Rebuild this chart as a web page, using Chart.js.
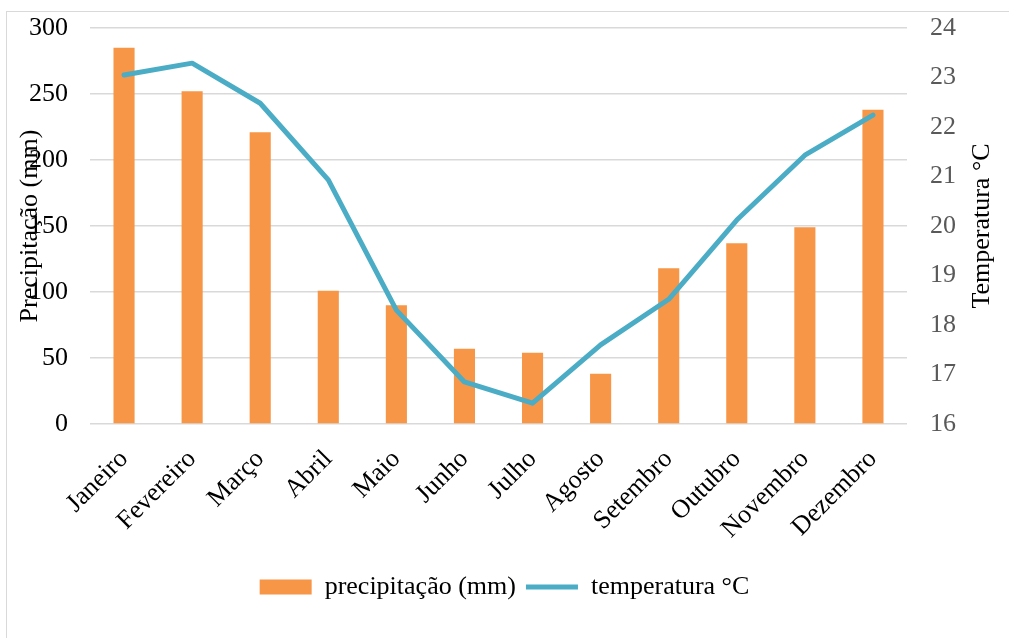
<!DOCTYPE html>
<html>
<head>
<meta charset="utf-8">
<script src="https://cdn.jsdelivr.net/npm/chart.js@4/dist/chart.umd.min.js"></script>
<style>
  html, body { margin: 0; padding: 0; background: #ffffff; overflow: hidden; }
  #frame { position: absolute; left: 6px; top: 11px; width: 1030px; height: 660px; border: 1px solid #d9d9d9; }
  #wrap { position: absolute; left: 0; top: 0; width: 1009px; height: 638px; }
</style>
</head>
<body>
<div id="frame"></div>
<div id="wrap"><canvas id="c" width="1009" height="638"></canvas></div>
<script>
// Monthly climate normals
const meses = ['Janeiro', 'Fevereiro', 'Março', 'Abril', 'Maio', 'Junho', 'Julho', 'Agosto', 'Setembro', 'Outubro', 'Novembro', 'Dezembro'];
const precipitacao = [285, 252, 221, 101, 90, 57, 54, 38, 118, 137, 149, 238];
const temperatura = [23.05, 23.29, 22.48, 20.93, 18.30, 16.85, 16.42, 17.60, 18.52, 20.12, 21.43, 22.24];

const FONT = '"Liberation Serif", "Times New Roman", serif';
const PAD_TOP = 28;
const PAD_BOTTOM = 28;
const AREA_BOTTOM = 424;

// Rotated axis titles, both reading bottom-to-top
const axisTitles = {
  id: 'axisTitles',
  afterDraw(chart) {
    const ctx = chart.ctx;
    const a = chart.chartArea;
    const cy = (a.top + a.bottom) / 2;
    ctx.save();
    ctx.font = '26px ' + FONT;
    ctx.fillStyle = '#000000';
    ctx.textAlign = 'center';
    ctx.textBaseline = 'middle';
    [['Precipitação (mm)', 30], ['Temperatura °C', 982]].forEach(([t, x]) => {
      ctx.save();
      ctx.translate(x, cy);
      ctx.rotate(-Math.PI / 2);
      ctx.fillText(t, 0, 0);
      ctx.restore();
    });
    ctx.restore();
  }
};

// Fixed-width value axes without extra label padding above/below the plot
function fixVertical(width) {
  return function (s) {
    s.width = width;
    s.paddingTop = 0;
    s.paddingBottom = 0;
  };
}

new Chart(document.getElementById('c'), {
  data: {
    labels: meses,
    datasets: [
      {
        type: 'line',
        label: 'temperatura °C',
        data: temperatura,
        yAxisID: 'y1',
        borderColor: '#4bacc6',
        backgroundColor: '#4bacc6',
        borderWidth: 5,
        borderCapStyle: 'round',
        borderJoinStyle: 'round',
        pointRadius: 0,
        pointHoverRadius: 0,
        pointStyle: 'line',
        tension: 0,
        order: 1
      },
      {
        type: 'bar',
        label: 'precipitação (mm)',
        data: precipitacao,
        yAxisID: 'y',
        backgroundColor: '#f79646',
        borderWidth: 0,
        pointStyle: 'rect',
        barPercentage: 0.31,
        categoryPercentage: 1.0,
        order: 2
      }
    ]
  },
  options: {
    responsive: false,
    animation: false,
    devicePixelRatio: 1,
    layout: { padding: { top: PAD_TOP, bottom: PAD_BOTTOM, left: 0, right: 0 } },
    plugins: {
      tooltip: { enabled: false },
      legend: {
        position: 'bottom',
        reverse: true,
        labels: {
          usePointStyle: true,
          pointStyleWidth: 52,
          boxHeight: 15,
          padding: 10,
          color: '#000000',
          font: { family: FONT, size: 26 }
        }
      }
    },
    scales: {
      x: {
        type: 'category',
        offset: true,
        grid: { display: false, drawTicks: false },
        border: { display: false },
        ticks: {
          minRotation: 45,
          maxRotation: 45,
          padding: 20,
          color: '#000000',
          font: { family: FONT, size: 26 }
        },
        afterFit(s) {
          const lg = s.chart.legend ? s.chart.legend.height : 0;
          s.height = s.chart.height - AREA_BOTTOM - PAD_BOTTOM - lg;
        }
      },
      y: {
        position: 'left',
        min: 0,
        max: 300,
        grid: { color: '#d9d9d9', lineWidth: 1.5, drawTicks: false },
        border: { display: false },
        ticks: {
          stepSize: 50,
          padding: 22,
          color: '#000000',
          font: { family: FONT, size: 26 }
        },
        afterFit: fixVertical(90)
      },
      y1: {
        position: 'right',
        min: 16,
        max: 24,
        grid: { display: false, drawTicks: false },
        border: { display: false },
        ticks: {
          stepSize: 1,
          padding: 23,
          color: '#595959',
          font: { family: FONT, size: 26 }
        },
        afterFit: fixVertical(102)
      }
    }
  },
  plugins: [axisTitles]
});
</script>
</body>
</html>
